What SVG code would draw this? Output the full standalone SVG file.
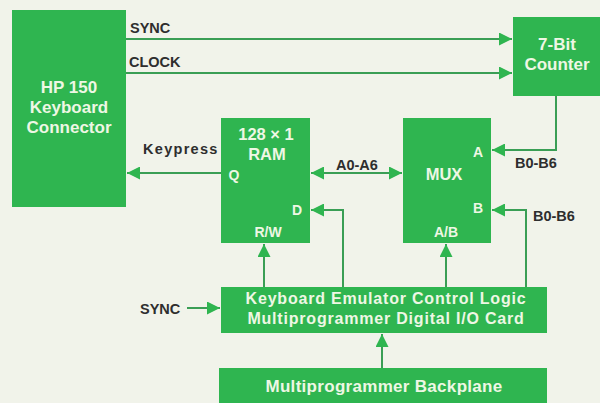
<svg xmlns="http://www.w3.org/2000/svg" width="600" height="403" viewBox="0 0 600 403">
<defs>
<style>
.box{fill:#2fb550}
.bt{font-family:"Liberation Sans",Arial,sans-serif;font-weight:bold;fill:#eef7e4;text-anchor:middle}
.lb{font-family:"Liberation Sans",Arial,sans-serif;font-weight:bold;fill:#2e2e2e;font-size:14.5px}
.ln{stroke:#3a9e55;stroke-width:2;fill:none}
</style>
<marker id="ah" viewBox="0 0 10 10" refX="10" refY="5" markerWidth="6.5" markerHeight="6.5" orient="auto-start-reverse" markerUnits="strokeWidth">
<path d="M0,0 L10,5 L0,10 Z" fill="#2fb550"/>
</marker>
</defs>
<rect width="600" height="403" fill="#f1f3ea"/>
<g id="hp150">
<rect class="box" x="12" y="10" width="114" height="197"/>
<text class="bt" font-size="17" x="69" y="93">HP 150</text>
<text class="bt" font-size="17" x="69" y="113">Keyboard</text>
<text class="bt" font-size="17" x="69" y="133">Connector</text>
</g>
<g id="counter">
<rect class="box" x="513" y="17" width="87" height="79"/>
<text class="bt" font-size="17" x="557" y="50">7-Bit</text>
<text class="bt" font-size="17" x="557" y="70">Counter</text>
</g>
<g id="ram">
<rect class="box" x="221" y="118" width="89" height="125"/>
<text class="bt" font-size="16.5" x="266" y="140">128 × 1</text>
<text class="bt" font-size="16.5" x="267" y="160">RAM</text>
<text class="bt" font-size="14" x="234" y="180">Q</text>
<text class="bt" font-size="14" x="297" y="215">D</text>
<text class="bt" font-size="14" x="268" y="237">R/W</text>
</g>
<g id="mux">
<rect class="box" x="403" y="118" width="88" height="125"/>
<text class="bt" font-size="16.5" x="444" y="180">MUX</text>
<text class="bt" font-size="14" x="478" y="157">A</text>
<text class="bt" font-size="14" x="478" y="213">B</text>
<text class="bt" font-size="14" x="446" y="237">A/B</text>
</g>
<g id="control">
<rect class="box" x="221" y="287" width="326" height="46"/>
<text class="bt" font-size="16" letter-spacing="0.8" x="386" y="304">Keyboard Emulator Control Logic</text>
<text class="bt" font-size="16" letter-spacing="0.8" x="386" y="324">Multiprogrammer Digital I/O Card</text>
</g>
<g id="backplane">
<rect class="box" x="219" y="368" width="328" height="40"/>
<text class="bt" font-size="17" letter-spacing="0.3" x="384" y="392">Multiprogrammer Backplane</text>
</g>
<g id="connectors">
<path class="ln" d="M126,39 H512" marker-end="url(#ah)"/>
<path class="ln" d="M126,73 H512" marker-end="url(#ah)"/>
<path class="ln" d="M556,96 V150 H492" marker-end="url(#ah)"/>
<path class="ln" d="M311,173 H402" marker-start="url(#ah)" marker-end="url(#ah)"/>
<path class="ln" d="M221,173 H127" marker-end="url(#ah)"/>
<path class="ln" d="M264,287 V244" marker-end="url(#ah)"/>
<path class="ln" d="M343,287 V210 H311" marker-end="url(#ah)"/>
<path class="ln" d="M446,287 V244" marker-end="url(#ah)"/>
<path class="ln" d="M526,287 V210 H492" marker-end="url(#ah)"/>
<path class="ln" d="M382,368 V334" marker-end="url(#ah)"/>
<path class="ln" d="M187,308 H220" marker-end="url(#ah)"/>
<text class="lb" x="130" y="33">SYNC</text>
<text class="lb" x="129" y="67">CLOCK</text>
<text class="lb" x="143" y="154" font-size="15.5" letter-spacing="1.3">Keypress</text>
<text class="lb" x="336" y="170">A0-A6</text>
<text class="lb" x="515" y="168">B0-B6</text>
<text class="lb" x="533" y="221">B0-B6</text>
<text class="lb" x="140" y="314">SYNC</text>
</g>
</svg>
